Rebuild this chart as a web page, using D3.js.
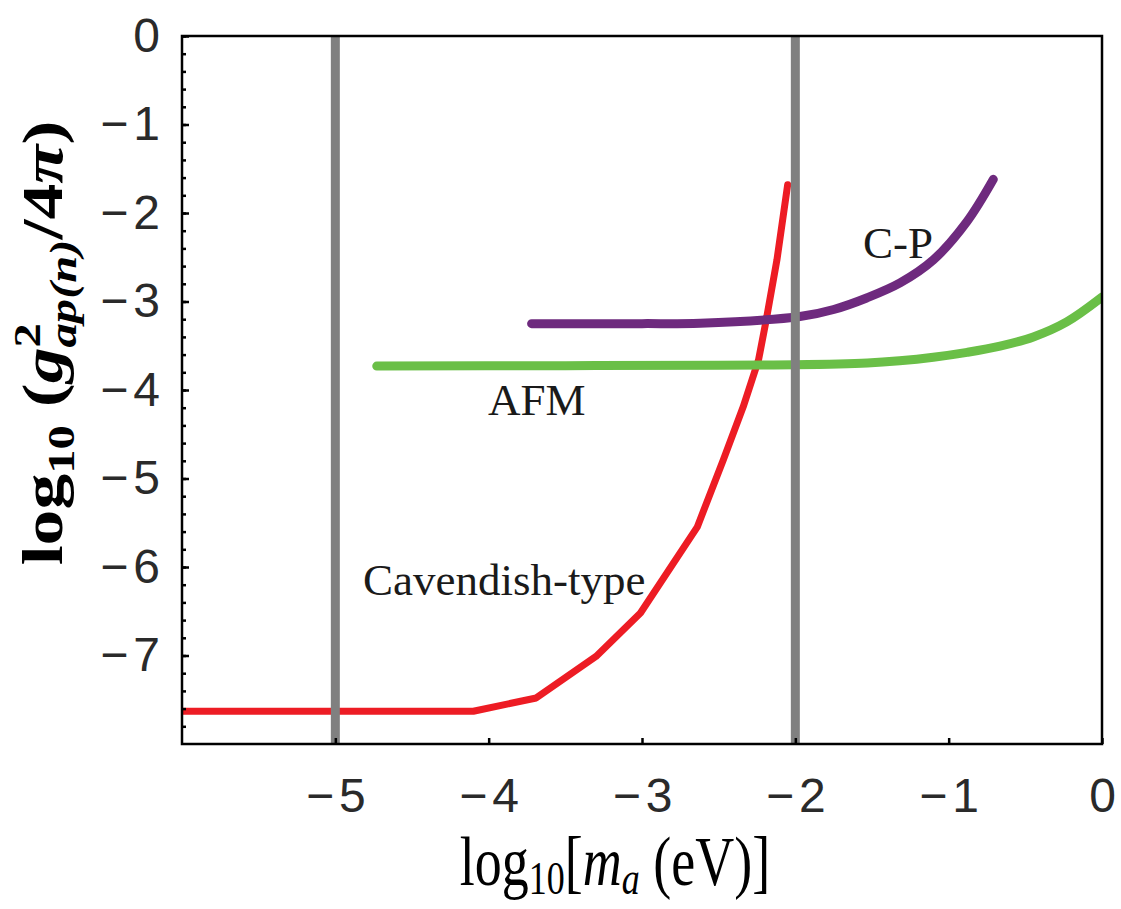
<!DOCTYPE html>
<html>
<head>
<meta charset="utf-8">
<script src="https://cdn.jsdelivr.net/npm/d3@7"></script>
<style>
  html, body { margin: 0; padding: 0; background: #ffffff; }
  #main { width: 1121px; height: 909px; }
</style>
</head>
<body>
<div id="main"></div>
<script>
// axis ticks
const xTicks = [-5, -4, -3, -2, -1, 0];
const yTicks = [0, -1, -2, -3, -4, -5, -6, -7];
const yMinorTicks = d3.range(0, 40).map(i => -i * 0.2);

// vertical reference lines (log10 m_a)
const refLines = [-5, -2];

// Cavendish-type bound
const cavX = [-6, -4.1, -3.69, -3.3, -3.01, -2.64, -2.47, -2.34, -2.24, -2.19, -2.12, -2.05];
const cavY = [-7.63, -7.63, -7.48, -7.01, -6.52, -5.55, -4.79, -4.19, -3.66, -3.21, -2.53, -1.68];

// AFM bound
const afmX = [-4.73, -3.5, -2.5, -2.0, -1.53, -1.32, -1.10, -0.88, -0.665, -0.448, -0.23, 0];
const afmY = [-3.73, -3.725, -3.72, -3.715, -3.695, -3.67, -3.63, -3.575, -3.505, -3.40, -3.23, -2.95];

// C-P bound
const cpX = [-3.72, -3.0, -2.62, -1.97, -1.75, -1.535, -1.317, -1.10, -0.882, -0.709];
const cpY = [-3.25, -3.25, -3.245, -3.17, -3.09, -2.96, -2.79, -2.53, -2.10, -1.62];

const plotLeft = 182, plotRight = 1102, plotTop = 36, plotBottom = 744;

const x = d3.scaleLinear().domain([-6, 0]).range([plotLeft, plotRight]);
const y = d3.scaleLinear().domain([-8, 0]).range([plotBottom, plotTop]);

const svg = d3.select('#main').append('svg')
  .attr('width', 1121)
  .attr('height', 909);

svg.append('clipPath')
  .attr('id', 'plot-clip')
  .append('rect')
    .attr('x', plotLeft)
    .attr('y', plotTop)
    .attr('width', plotRight - plotLeft)
    .attr('height', plotBottom - plotTop);

const line = d3.line()
  .x(d => x(d[0]))
  .y(d => y(d[1]));

const curves = [
  { pts: d3.zip(cavX, cavY), color: '#ed1c24', width: 7, curve: d3.curveLinear },
  { pts: d3.zip(afmX, afmY), color: '#6abf47', width: 9, curve: d3.curveCatmullRom },
  { pts: d3.zip(cpX, cpY), color: '#6e2a7e', width: 9, curve: d3.curveCatmullRom }
];

const plot = svg.append('g').attr('clip-path', 'url(#plot-clip)');

plot.selectAll('.curve')
  .data(curves)
  .enter().append('path')
    .attr('class', 'curve')
    .attr('d', d => line.curve(d.curve)(d.pts))
    .attr('fill', 'none')
    .attr('stroke', d => d.color)
    .attr('stroke-width', d => d.width)
    .attr('stroke-linecap', 'round')
    .attr('stroke-linejoin', 'round');

plot.selectAll('.ref-line')
  .data(refLines)
  .enter().append('line')
    .attr('class', 'ref-line')
    .attr('x1', d => x(d))
    .attr('x2', d => x(d))
    .attr('y1', y(0))
    .attr('y2', y(-8))
    .attr('stroke', '#808080')
    .attr('stroke-width', 9);

// frame
svg.append('rect')
  .attr('x', plotLeft)
  .attr('y', plotTop)
  .attr('width', plotRight - plotLeft)
  .attr('height', plotBottom - plotTop)
  .attr('fill', 'none')
  .attr('stroke', '#000')
  .attr('stroke-width', 2.5);

// minor y ticks
svg.append('g')
  .attr('transform', `translate(${plotLeft},0)`)
  .call(d3.axisLeft(y).tickValues(yMinorTicks).tickSize(-4).tickFormat(''))
  .call(g => g.select('.domain').remove())
  .call(g => g.selectAll('line').attr('stroke-width', 2.5));

function minusLabel(sel) {
  sel.each(function(d) {
    const t = d3.select(this).text('');
    if (d < 0) {
      t.append('tspan').text('\u2212');
      t.append('tspan').attr('dx', 5).text(Math.abs(d));
    } else {
      t.append('tspan').text(d);
    }
  });
}

const yAxis = svg.append('g')
  .attr('transform', `translate(${plotLeft},0)`)
  .call(d3.axisLeft(y).tickValues(yTicks).tickSize(-7).tickPadding(22))
  .call(g => g.select('.domain').remove());
yAxis.selectAll('line').attr('stroke-width', 2.5);
yAxis.selectAll('text')
  .attr('font-family', 'Liberation Sans')
  .attr('font-size', 48)
  .attr('fill', '#2a2a2a')
  .call(minusLabel);

const xAxis = svg.append('g')
  .attr('transform', `translate(0,${plotBottom})`)
  .call(d3.axisBottom(x).tickValues(xTicks).tickSize(-6).tickPadding(34))
  .call(g => g.select('.domain').remove());
xAxis.selectAll('line').attr('stroke-width', 2.5);
xAxis.selectAll('text')
  .attr('font-family', 'Liberation Sans')
  .attr('font-size', 48)
  .attr('fill', '#2a2a2a')
  .call(minusLabel);

// curve labels
const labels = [
  { text: 'C-P', x: 863, y: 258 },
  { text: 'AFM', x: 488, y: 415 },
  { text: 'Cavendish-type', x: 363, y: 595 }
];
svg.selectAll('.curve-label')
  .data(labels)
  .enter().append('text')
    .attr('class', 'curve-label')
    .attr('x', d => d.x)
    .attr('y', d => d.y)
    .attr('font-family', 'Liberation Serif')
    .attr('font-size', 45)
    .attr('fill', '#1a1a1a')
    .text(d => d.text);

// x axis title
const xt = svg.append('text')
  .attr('transform', 'translate(615,885) scale(1,1.3)')
  .attr('text-anchor', 'middle')
  .attr('font-family', 'Liberation Serif')
  .attr('font-size', 54)
  .attr('fill', '#000');
xt.append('tspan').text('log');
xt.append('tspan').attr('font-size', 36).attr('dy', 7).text('10');
xt.append('tspan').attr('dy', -7).text('[');
xt.append('tspan').attr('font-style', 'italic').text('m');
xt.append('tspan').attr('font-style', 'italic').attr('font-size', 36).attr('dy', 7).text('a');
xt.append('tspan').attr('dy', -7).text(' (eV)]');

// y axis title
const yt = svg.append('text')
  .attr('transform', 'translate(62,343) rotate(-90) scale(1.28,1)')
  .attr('text-anchor', 'middle')
  .attr('font-family', 'Liberation Serif')
  .attr('font-weight', 'bold')
  .attr('font-size', 56)
  .attr('fill', '#000');
yt.append('tspan').text('log');
yt.append('tspan').attr('font-size', 38).attr('dy', 12).text('10');
yt.append('tspan').attr('dy', -12).text(' (');
yt.append('tspan').attr('font-style', 'italic').text('g');
yt.append('tspan').attr('font-size', 38).attr('dy', -22).text('2');
yt.append('tspan').attr('font-size', 38).attr('font-style', 'italic').attr('dx', -19).attr('dy', 36).text('ap(n)');
yt.append('tspan').attr('dy', -14).text('/4');
yt.append('tspan').attr('font-style', 'italic').text('\u03c0');
yt.append('tspan').text(')');
</script>
</body>
</html>
